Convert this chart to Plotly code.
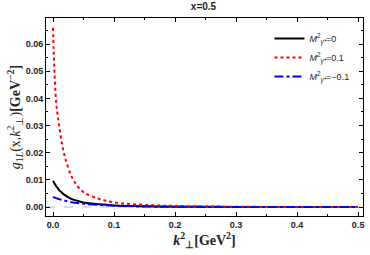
import plotly.graph_objects as go

k = [0, 0.001, 0.0025, 0.005, 0.0075, 0.01, 0.015, 0.02, 0.03, 0.04, 0.05, 0.075, 0.1, 0.15, 0.2, 0.3, 0.4, 0.5]
g_m0 = [0.0097, 0.0093, 0.0087, 0.0078, 0.0070, 0.0062, 0.0052, 0.0043, 0.0030, 0.0023, 0.0017, 0.0010, 0.0006, 0.0003, 0.00015, 0.00005, 0.00002, 0.00001]
g_p01 = [0.066, 0.058, 0.049, 0.039, 0.034, 0.030, 0.023, 0.018, 0.0115, 0.0077, 0.0055, 0.003, 0.0017, 0.0008, 0.0004, 0.0001, 0.00005, 0.00002]
g_m01 = [0.0037, 0.0036, 0.0035, 0.0033, 0.0031, 0.0029, 0.0026, 0.0023, 0.0018, 0.0015, 0.0012, 0.0008, 0.0005, 0.0002, 0.0001, 0.00004, 0.00002, 0.00001]

xticks = [0, 0.1, 0.2, 0.3, 0.4, 0.5]
xticklabels = ["0.0", "0.1", "0.2", "0.3", "0.4", "0.5"]
yticks = [0, 0.01, 0.02, 0.03, 0.04, 0.05, 0.06]
yticklabels = ["0.00", "0.01", "0.02", "0.03", "0.04", "0.05", "0.06"]

names = ["<i>M</i><sup>2</sup><sub><i>γ*</i></sub>=0",
         "<i>M</i><sup>2</sup><sub><i>γ*</i></sub>=0.1",
         "<i>M</i><sup>2</sup><sub><i>γ*</i></sub>=−0.1"]

fig = go.Figure()
fig.add_trace(go.Scatter(x=k, y=g_m0, mode="lines", name=names[0],
                         line=dict(color="black", width=2, shape="spline")))
fig.add_trace(go.Scatter(x=k, y=g_p01, mode="lines", name=names[1],
                         line=dict(color="red", width=2, dash="dot", shape="spline")))
fig.add_trace(go.Scatter(x=k, y=g_m01, mode="lines", name=names[2],
                         line=dict(color="blue", width=2, dash="dashdot", shape="spline")))

fig.add_hline(y=0, line=dict(color="#bbbbbb", width=1, dash="dash"), layer="below")

axis_common = dict(showline=True, linecolor="black", linewidth=1, mirror="allticks",
                   ticks="inside", ticklen=4, tickcolor="black", showgrid=False, zeroline=False,
                   automargin=False,
                   tickfont=dict(family="Liberation Sans", size=9, color="#222"),
                   minor=dict(ticks="inside", ticklen=2, tickcolor="black"))

fig.update_xaxes(range=[-0.0115, 0.508], tickvals=xticks,
                 ticktext=["<b>%s</b>" % t for t in xticklabels],
                 title=dict(text="<b><i>k</i><sup>2</sup><sub>⊥</sub>[GeV<sup>2</sup>]</b>",
                            font=dict(family="Liberation Serif", size=14, color="#222"), standoff=2),
                 **axis_common)
fig.update_yaxes(range=[-0.0033, 0.0696], tickvals=yticks,
                 ticktext=["<b>%s</b>" % t for t in yticklabels],
                 title=dict(text="<i>g</i><sub>1<i>L</i></sub>(x,<i>k</i><sup>2</sup><sub>⊥</sub>)<b>[GeV<sup>−2</sup>]</b>",
                            font=dict(family="Liberation Serif", size=14, color="#222"), standoff=1),
                 **axis_common)

fig.update_layout(
    width=370, height=255,
    margin=dict(l=46, r=7, t=18, b=39),
    plot_bgcolor="white", paper_bgcolor="white",
    title=dict(text="<b>x=0.5</b>", x=0.55, xanchor="center", y=0.99, yanchor="top",
               font=dict(family="Liberation Sans", size=10, color="#222")),
    legend=dict(x=0.705, y=0.97, xanchor="left", yanchor="top", bgcolor="rgba(0,0,0,0)",
                font=dict(family="Liberation Sans", size=9, color="#222"), tracegroupgap=0),
    showlegend=True,
)

fig.write_html("out.html", config={"displayModeBar": False},
               post_script="document.body.style.margin='0';")
